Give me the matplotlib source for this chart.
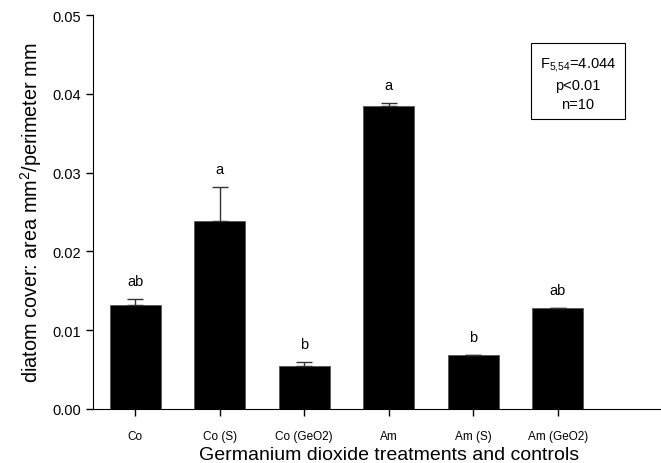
import numpy as np
import matplotlib
matplotlib.use('Agg')
import matplotlib.pyplot as plt

plt.rcParams['font.family'] = ['Liberation Sans', 'DejaVu Sans']
plt.rcParams['mathtext.fontset'] = 'custom'
plt.rcParams['mathtext.rm'] = 'Liberation Sans'
plt.rcParams['mathtext.it'] = 'Liberation Sans'

treatments = ['Co', 'Co (S)', 'Co (GeO2)', 'Am', 'Am (S)', 'Am (GeO2)']
cover = [0.0132, 0.0239, 0.0055, 0.0385, 0.0068, 0.0128]
se = [0.00076, 0.0043, 0.00046, 0.00033, 0.00008, 0.00004]
groups = ['ab', 'a', 'b', 'a', 'b', 'ab']

fig = plt.figure(figsize=(6.61, 4.64), dpi=100)
ax = fig.add_axes([0.1407, 0.1164, 0.859, 0.8491])

x = np.arange(len(treatments))
ax.bar(x, cover, width=0.6, color='black', edgecolor='#555555', linewidth=0.6)
ax.errorbar(x, cover, yerr=[np.zeros(len(se)), se], fmt='none',
            ecolor='#333333', elinewidth=1, capsize=6, capthick=1)

for xi, v, e, g in zip(x, cover, se, groups):
    ax.text(xi, v + e + 0.0014, g, ha='center', va='bottom', fontsize=10.5)

ax.set_xlim(-0.5, 6.22)
ax.set_ylim(0, 0.05)
ax.set_yticks(np.arange(0, 0.051, 0.01))
ax.set_yticklabels(['%.2f' % t for t in np.arange(0, 0.051, 0.01)])
ax.set_xticks(x)
ax.set_xticklabels(treatments, fontsize=8.5)
ax.tick_params(axis='y', labelsize=10.5, direction='out', length=5, width=1)
ax.tick_params(axis='x', direction='out', length=5, width=1, pad=10)

ax.spines['top'].set_visible(False)
ax.spines['right'].set_visible(False)

ax.set_xlabel('Germanium dioxide treatments and controls', fontsize=14)
ax.xaxis.set_label_coords(0.521, -0.093)
ax.set_ylabel('diatom cover: area mm$^2$/perimeter mm', fontsize=14.3, labelpad=6)

ax.text(5.24, 0.0414, 'F$_{5{,}54}$=4.044\np<0.01\nn=10', ha='center', va='center',
        fontsize=10.5, linespacing=1.45,
        bbox=dict(boxstyle='square,pad=0.6', facecolor='white', edgecolor='black', linewidth=0.8))

plt.savefig('out.png', dpi=100)
